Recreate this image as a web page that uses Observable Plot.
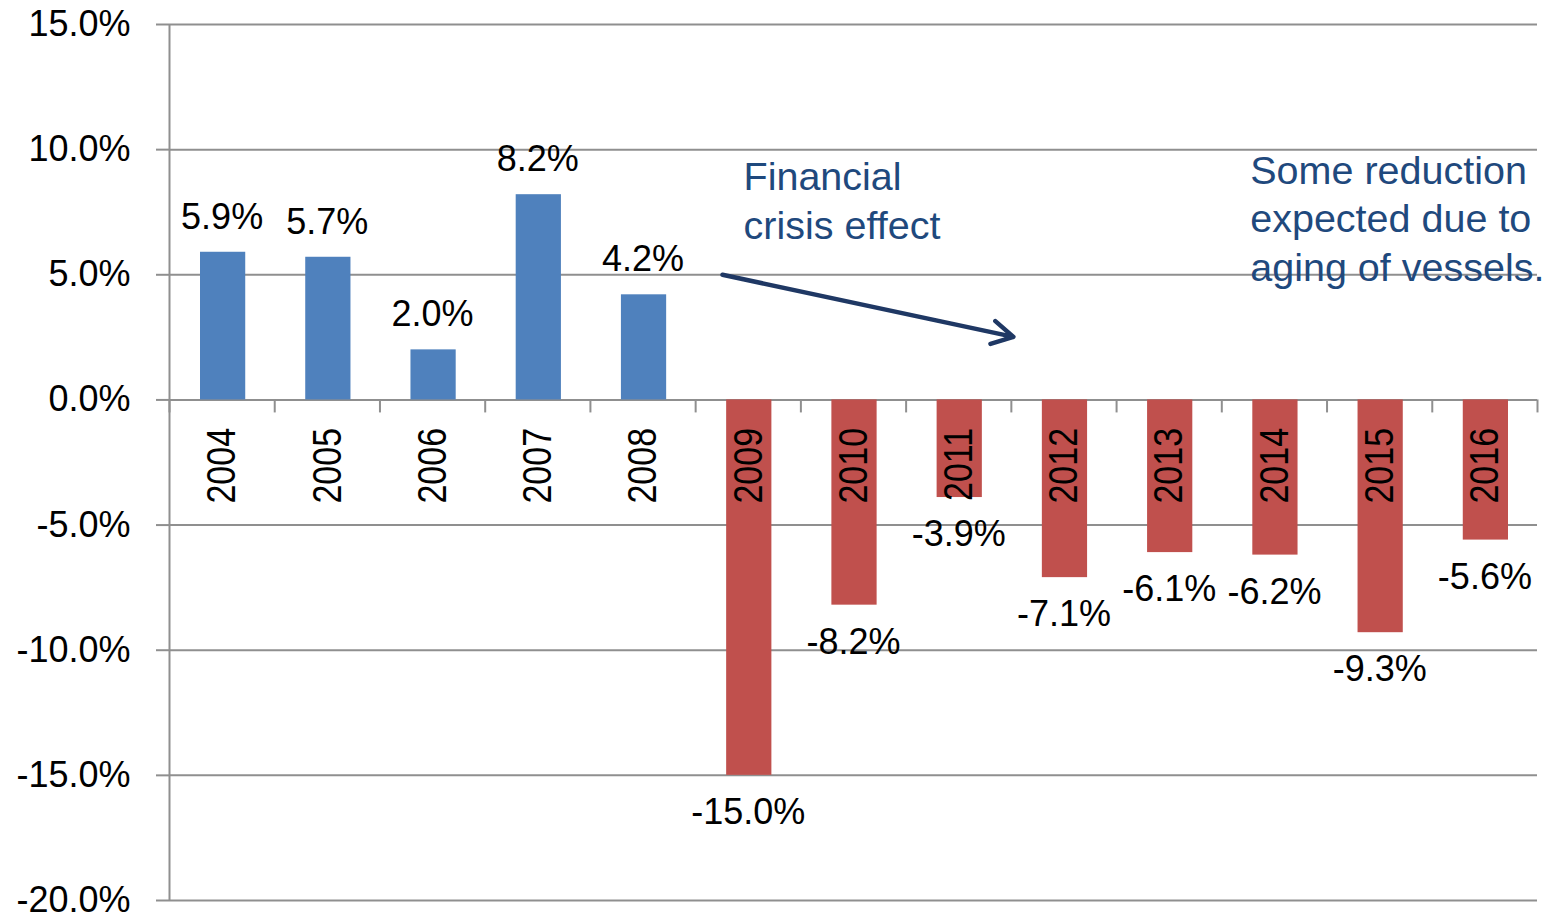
<!DOCTYPE html>
<html>
<head>
<meta charset="utf-8">
<script src="https://cdn.jsdelivr.net/npm/d3@7"></script>
<script src="https://cdn.jsdelivr.net/npm/@observablehq/plot@0.6"></script>
<style>
  html, body { margin: 0; padding: 0; background: #fff; }
  #chart svg { display: block; }
</style>
</head>
<body>
<div id="chart"></div>
<script>
// ---- data ----
const years = [2004, 2005, 2006, 2007, 2008, 2009, 2010, 2011, 2012, 2013, 2014, 2015, 2016];
const growth = [5.9, 5.7, 2.0, 8.2, 4.2, -15.0, -8.2, -3.9, -7.1, -6.1, -6.2, -9.3, -5.6];
const yTicks = [-20, -15, -10, -5, 0, 5, 10, 15];
const xBoundaries = [2004, 2005, 2006, 2007, 2008, 2009, 2010, 2011, 2012, 2013, 2014, 2015, 2016, 2017];
const annotationTexts = ["Financial\ncrisis effect", "Some reduction\nexpected due to\naging of vessels."];
const annotationX = [2009.455, 2014.27];
const annotationY = [9.75, 10.02];
const arrowStart = [2009.255, 5.0];
const arrowEnd = [2012.02, 2.52];

const blue = "#4F81BD";
const red = "#C0504D";
const grid = "#8f8f8f";
const navy = "#1F3864";
const annColor = "#1F497D";

const data = years.map((year, i) => ({year, value: growth[i]}));
const annotations = annotationTexts.map((text, i) => ({text, x: annotationX[i], y: annotationY[i]}));
const arrows = [{x1: arrowStart[0], y1: arrowStart[1], x2: arrowEnd[0], y2: arrowEnd[1]}];

const chart = Plot.plot({
  width: 1547,
  height: 917,
  marginLeft: 169,
  marginRight: 10,
  marginTop: 24,
  marginBottom: 17,
  style: {fontFamily: "'Liberation Sans', Arial, sans-serif", fontSize: "36px", color: "black", background: "white"},
  x: {type: "linear", domain: [2004, 2017], axis: null},
  y: {domain: [-20, 15], axis: null},
  marks: [
    Plot.gridY(yTicks, {stroke: grid, strokeOpacity: 1, strokeWidth: 2}),
    Plot.axisY(yTicks, {
      tickSize: 13,
      tickPadding: 26,
      stroke: grid,
      strokeWidth: 2,
      fill: "black",
      fontSize: 36,
      tickFormat: d => d.toFixed(1) + "%"
    }),
    Plot.ruleX([2004], {stroke: grid, strokeWidth: 2}),
    Plot.ruleY([0], {stroke: grid, strokeWidth: 2}),
    Plot.ruleX(xBoundaries, {y1: 0, y2: 0, insetBottom: -13, stroke: grid, strokeWidth: 2}),
    Plot.rectY(data.filter(d => d.value >= 0), {
      x1: "year", x2: d => d.year + 1, y1: 0, y2: "value",
      fill: blue, insetLeft: 31, insetRight: 29
    }),
    Plot.rectY(data.filter(d => d.value < 0), {
      x1: "year", x2: d => d.year + 1, y1: 0, y2: "value",
      fill: red, insetLeft: 31, insetRight: 29
    }),
    Plot.text(data, {
      x: d => d.year + 0.5, y: 0, text: d => String(d.year),
      rotate: -90, textAnchor: "end", dy: 28, fontSize: 34, fill: "black",
      className: "year-labels"
    }),
    Plot.text(data.filter(d => d.value >= 0), {
      x: d => d.year + 0.5, y: "value", text: d => d.value.toFixed(1) + "%",
      dy: -35, fontSize: 36, fill: "black"
    }),
    Plot.text(data.filter(d => d.value < 0), {
      x: d => d.year + 0.5, y: "value", text: d => d.value.toFixed(1) + "%",
      dy: 37, fontSize: 36, fill: "black"
    }),
    Plot.text(annotations, {
      x: "x", y: "y", text: "text", textAnchor: "start", lineAnchor: "top",
      lineHeight: 1.23, fontSize: 39.5, fill: annColor
    }),
    Plot.arrow(arrows, {
      x1: "x1", y1: "y1", x2: "x2", y2: "y2",
      stroke: navy, strokeWidth: 4.5, headLength: 8, headAngle: 58
    })
  ]
});
// widen the rotated year labels a little, like the reference's stretched glyphs
d3.select(chart).selectAll(".year-labels text").attr("transform", function () {
  return this.getAttribute("transform") + " scale(1,1.22)";
});
document.getElementById("chart").appendChild(chart);
</script>
</body>
</html>
